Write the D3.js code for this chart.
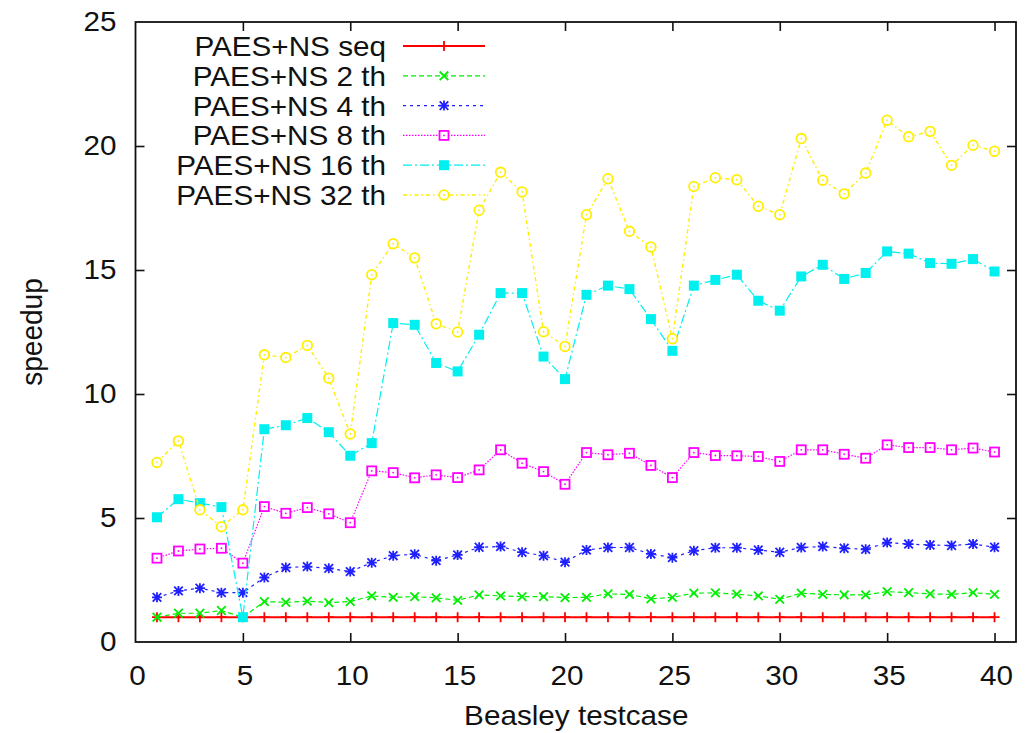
<!DOCTYPE html>
<html>
<head>
<meta charset="utf-8">
<script src="https://cdn.jsdelivr.net/npm/d3@7"></script>
<style>
  html, body { margin: 0; padding: 0; background: #fff; }
  svg { display: block; font-family: "Liberation Sans", Arial, Helvetica, sans-serif; }
</style>
</head>
<body>
<svg id="chart" width="1034" height="733"></svg>
<script>
// Beasley test cases 1..40
const testcases = [1,2,3,4,5,6,7,8,9,10,11,12,13,14,15,16,17,18,19,20,
                   21,22,23,24,25,26,27,28,29,30,31,32,33,34,35,36,37,38,39,40];

// Speedup per configuration
const seqSpeedup = [1,1,1,1,1,1,1,1,1,1,1,1,1,1,1,1,1,1,1,1,
                    1,1,1,1,1,1,1,1,1,1,1,1,1,1,1,1,1,1,1,1];
const th2Speedup = [1.00,1.16,1.16,1.27,1.00,1.63,1.60,1.65,1.59,1.63,
                    1.86,1.80,1.83,1.78,1.68,1.90,1.86,1.83,1.83,1.79,
                    1.80,1.94,1.92,1.74,1.80,1.97,1.98,1.93,1.86,1.72,
                    1.97,1.92,1.90,1.90,2.03,1.99,1.94,1.92,1.99,1.92];
const th4Speedup = [1.80,2.06,2.17,1.99,1.99,2.60,3.00,3.04,2.97,2.84,
                    3.20,3.48,3.54,3.28,3.51,3.82,3.85,3.62,3.48,3.22,
                    3.71,3.81,3.81,3.55,3.40,3.68,3.80,3.80,3.71,3.62,
                    3.81,3.85,3.78,3.74,4.01,3.95,3.91,3.89,3.95,3.82];
const th8Speedup = [3.38,3.67,3.75,3.78,3.18,5.46,5.19,5.42,5.17,4.81,
                    6.90,6.83,6.62,6.74,6.63,6.94,7.75,7.21,6.87,6.36,
                    7.64,7.55,7.61,7.12,6.63,7.64,7.52,7.51,7.48,7.28,
                    7.75,7.75,7.57,7.41,7.95,7.84,7.84,7.75,7.82,7.66];
const th16Speedup = [5.03,5.76,5.60,5.44,1.00,8.58,8.74,9.03,8.46,7.51,
                     8.02,12.86,12.79,11.25,10.91,12.39,14.07,14.07,11.51,10.60,
                     14.00,14.37,14.23,13.02,11.74,14.37,14.60,14.81,13.76,13.36,
                     14.74,15.21,14.64,14.88,15.75,15.66,15.28,15.25,15.44,14.94];
const th32Speedup = [7.24,8.11,5.33,4.65,5.33,11.58,11.47,11.96,10.64,8.39,
                     14.81,16.06,15.49,12.83,12.50,17.41,18.94,18.15,12.51,11.92,
                     17.23,18.68,16.56,15.93,12.23,18.37,18.72,18.64,17.57,17.23,
                     20.30,18.62,18.07,18.91,21.04,20.37,20.59,19.22,20.03,19.79];

const seriesNames = ["PAES+NS seq", "PAES+NS 2 th", "PAES+NS 4 th",
                     "PAES+NS 8 th", "PAES+NS 16 th", "PAES+NS 32 th"];
const seriesValues = [seqSpeedup, th2Speedup, th4Speedup, th8Speedup, th16Speedup, th32Speedup];

const xTicks = [0, 5, 10, 15, 20, 25, 30, 35, 40];
const yTicks = [0, 5, 10, 15, 20, 25];
const xTitle = "Beasley testcase";
const yTitle = "speedup";

// Line / marker styles in the spirit of gnuplot's postscript terminal
const styles = [
  { color: "#ff0000", dash: null,        width: 2.0, marker: "plus" },
  { color: "#00ee00", dash: "5,3",       width: 1.2, marker: "cross" },
  { color: "#2020ff", dash: "3,4",       width: 1.2, marker: "star" },
  { color: "#ff00ff", dash: "1.5,1.5",   width: 1.2, marker: "box" },
  { color: "#00f0f0", dash: "9,3,2,3",   width: 1.2, marker: "boxfill" },
  { color: "#ffee00", dash: "4,3,1.5,3", width: 1.4, marker: "circle" }
];

const svg = d3.select("#chart");
const margin = { left: 135.5, right: 1016, top: 22, bottom: 642 };
const FONT = 28;
const STRETCH = 1.06;   // the typeface is set slightly wide

// widen a text element horizontally about its own anchor x
function widen(sel) {
  sel.each(function () {
    const t = d3.select(this);
    const ax = +t.attr("x") || 0;
    t.attr("transform", `translate(${ax},0) scale(${STRETCH},1) translate(${-ax},0)`);
  });
}

const x = d3.scaleLinear().domain([0, 41]).range([margin.left, margin.right]);
const y = d3.scaleLinear().domain([0, 25]).range([margin.bottom, margin.top]);

const TICK = 9;

// Axes: ticks drawn inward on all four sides
const gx = svg.append("g").attr("transform", `translate(0,${margin.bottom})`)
  .call(d3.axisBottom(x).tickValues(xTicks).tickSize(-TICK).tickPadding(TICK + 14).tickFormat(d3.format("d")));
const gxTop = svg.append("g").attr("transform", `translate(0,${margin.top})`)
  .call(d3.axisTop(x).tickValues(xTicks).tickSize(-TICK).tickFormat(""));
const gy = svg.append("g").attr("transform", `translate(${margin.left},0)`)
  .call(d3.axisLeft(y).tickValues(yTicks).tickSize(-TICK).tickPadding(TICK + 10).tickFormat(d3.format("d")));
const gyRight = svg.append("g").attr("transform", `translate(${margin.right},0)`)
  .call(d3.axisRight(y).tickValues(yTicks).tickSize(-TICK).tickFormat(""));

[gx, gxTop, gy, gyRight].forEach(g => {
  g.select(".domain").remove();
  g.selectAll(".tick line").attr("stroke", "#111").attr("stroke-width", 1.6);
  g.selectAll(".tick text").attr("fill", "#111").attr("font-size", FONT)
    .attr("font-family", "Liberation Sans, Arial, sans-serif");
});
// drop the tick marks that would fall on the frame corners
gxTop.selectAll(".tick").filter(d => d === 0).select("line").remove();
gx.selectAll(".tick").filter(d => d === 0).select("line").remove();
gy.selectAll(".tick").filter(d => d === 0 || d === 25).select("line").remove();
gyRight.selectAll(".tick").filter(d => d === 0 || d === 25).select("line").remove();
gx.selectAll(".tick text").attr("dy", "0.71em").attr("x", 1.5);
widen(gx.selectAll(".tick text"));
widen(gy.selectAll(".tick text"));

// Frame
svg.append("rect")
  .attr("x", margin.left).attr("y", margin.top)
  .attr("width", margin.right - margin.left).attr("height", margin.bottom - margin.top)
  .attr("fill", "none").attr("stroke", "#111").attr("stroke-width", 1.8);

// Axis titles
svg.append("text")
  .attr("x", (margin.left + margin.right) / 2 + 0.5).attr("y", 725)
  .attr("text-anchor", "middle").attr("font-size", FONT).attr("fill", "#111")
  .text(xTitle)
  .call(widen);
svg.append("text")
  .attr("transform", `translate(42,${(margin.top + margin.bottom) / 2}) rotate(-90) scale(1,${STRETCH})`)
  .attr("text-anchor", "middle").attr("font-size", FONT).attr("fill", "#111")
  .text(yTitle);

// Marker drawing
function drawMarker(g, type, color) {
  const s = 5;
  if (type === "plus") {
    g.append("path").attr("d", `M${-s},0H${s}M0,${-s}V${s}`)
      .attr("stroke", color).attr("stroke-width", 1.8).attr("fill", "none");
  } else if (type === "cross") {
    const t = 4.3;
    g.append("path").attr("d", `M${-t},${-t}L${t},${t}M${-t},${t}L${t},${-t}`)
      .attr("stroke", color).attr("stroke-width", 1.8).attr("fill", "none");
  } else if (type === "star") {
    const t = 4.3;
    g.append("path").attr("d", `M${-s},0H${s}M0,${-s}V${s}M${-t},${-t}L${t},${t}M${-t},${t}L${t},${-t}`)
      .attr("stroke", color).attr("stroke-width", 1.8).attr("fill", "none");
  } else if (type === "box") {
    g.append("rect").attr("x", -4.5).attr("y", -4.5).attr("width", 9).attr("height", 9)
      .attr("stroke", color).attr("stroke-width", 1.8).attr("fill", "#fff");
    g.append("circle").attr("r", 0.9).attr("fill", color);
  } else if (type === "boxfill") {
    g.append("rect").attr("x", -5).attr("y", -5).attr("width", 10).attr("height", 10)
      .attr("fill", color);
  } else if (type === "circle") {
    g.append("circle").attr("r", 4.8)
      .attr("stroke", color).attr("stroke-width", 1.8).attr("fill", "#fff");
    g.append("circle").attr("r", 0.9).attr("fill", color);
  }
}

const line = d3.line().x(d => x(d[0])).y(d => y(d[1]));

// Series
seriesValues.forEach((vals, i) => {
  const st = styles[i];
  const pts = testcases.map((t, j) => [t, vals[j]]);
  const g = svg.append("g").attr("class", "series");
  g.append("path").datum(pts)
    .attr("d", line)
    .attr("fill", "none")
    .attr("stroke", st.color)
    .attr("stroke-width", st.width)
    .attr("stroke-dasharray", st.dash);
  g.selectAll("g.pt").data(pts).enter().append("g")
    .attr("class", "pt")
    .attr("transform", d => `translate(${x(d[0])},${y(d[1])})`)
    .each(function () { drawMarker(d3.select(this), st.marker, st.color); });
});

// Legend (top left, text right-aligned, sample line to the right)
const legendTextRight = 386;
const legendLineX0 = 403, legendLineX1 = 485;
const legendY0 = 46, legendStep = 29.8;
seriesNames.forEach((name, i) => {
  const st = styles[i];
  const yy = legendY0 + i * legendStep;
  svg.append("text")
    .attr("x", legendTextRight).attr("y", yy)
    .attr("dy", "0.36em")
    .attr("text-anchor", "end").attr("font-size", FONT).attr("fill", "#111")
    .text(name)
    .call(widen);
  svg.append("line")
    .attr("x1", legendLineX0).attr("x2", legendLineX1)
    .attr("y1", yy).attr("y2", yy)
    .attr("stroke", st.color).attr("stroke-width", st.width)
    .attr("stroke-dasharray", st.dash);
  const mg = svg.append("g").attr("transform", `translate(${(legendLineX0 + legendLineX1) / 2},${yy})`);
  drawMarker(mg, st.marker, st.color);
});
</script>
</body>
</html>
